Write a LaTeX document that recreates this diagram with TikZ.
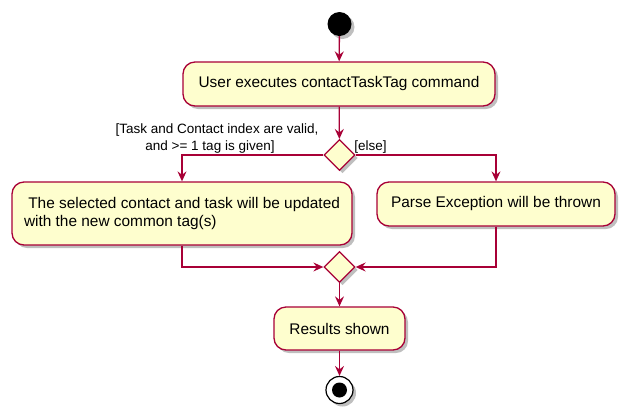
\documentclass[tikz,border=0pt]{standalone}
\usepackage{fontspec}
\setmainfont{Liberation Sans}
\usetikzlibrary{arrows.meta,shapes.geometric,shadows}
\definecolor{umlred}{HTML}{A80036}
\definecolor{umlfill}{HTML}{FEFECE}
\tikzset{
  shad/.style={drop shadow={shadow xshift=3pt,shadow yshift=-3pt,fill=black,opacity=0.25}},
  act/.style={draw=umlred,fill=umlfill,line width=1.3pt,rounded corners=12pt,shad,
    inner sep=0pt,font=\fontsize{15.4}{18.5}\selectfont},
  dec/.style={diamond,draw=umlred,fill=umlfill,line width=1.3pt,shad,inner sep=0pt,
    minimum width=31pt,minimum height=31pt},
  lbl/.style={font=\fontsize{13.5}{16.5}\selectfont,inner sep=0pt},
  arr/.style={draw=umlred,line width=1.3pt,-{Stealth[length=10pt,width=9pt,inset=3.5pt]}},
  ln/.style={draw=umlred,line width=1.3pt}
}
\begin{document}
\begin{tikzpicture}[x=1pt,y=-1pt]
\useasboundingbox (0,0) rectangle (627,416);
\node[circle,fill=black,minimum size=24pt,inner sep=0pt,shad] (start) at (339.5,24) {};
\node[act,minimum width=312pt,minimum height=44pt] (b1) at (339,84) {User executes contactTaskTag command};
\node[dec] (d1) at (339.5,155) {};
\node[act,minimum width=340pt,minimum height=63pt,align=left] (b2) at (182,213.5) {\ The selected contact and task will be updated\\with the new common tag(s)};
\node[act,minimum width=238pt,minimum height=44pt] (b3) at (496,204) {Parse Exception will be thrown};
\node[dec] (d2) at (339.5,267) {};
\node[act,minimum width=131pt,minimum height=43pt] (b4) at (339.5,328.5) {Results shown};
\node[circle,draw=black,fill=white,line width=1.2pt,minimum size=27pt,inner sep=0pt,shad] (end) at (339.5,390) {};
\node[circle,fill=black,minimum size=15pt,inner sep=0pt] (endin) at (end.center) {};
\node[lbl,align=center] (l1) at (217,138.5) {[Task and Contact index are valid,\\and >= 1 tag is given]\hspace*{14pt}};
\node[lbl] (l2) at (370.5,147) {[else]};
\draw[arr] (start) -- (b1);
\draw[arr] (b1) -- (d1);
\draw[arr] (d1.west) -| (b2.north);
\draw[arr] (d1.east) -| (b3.north);
\draw[arr] (b2.south) |- (d2.west);
\draw[arr] (b3.south) |- (d2.east);
\draw[arr] (d2) -- (b4);
\draw[arr] (b4) -- (end);
\end{tikzpicture}
\end{document}
